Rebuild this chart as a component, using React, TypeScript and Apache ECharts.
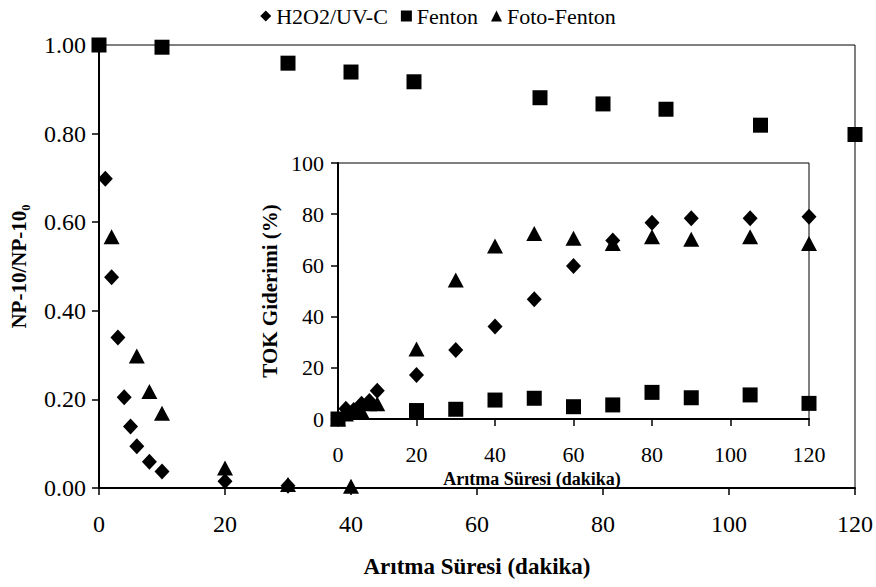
import { useEffect, useRef } from "react";
import * as echarts from "echarts";

const seriesNames = ["H2O2/UV-C", "Fenton", "Foto-Fenton"];

// Main chart: NP-10/NP-10_0 vs time (min)
const mainH2O2T = [1, 2, 3, 4, 5, 6, 8, 10, 20, 30];
const mainH2O2V = [0.698, 0.476, 0.34, 0.205, 0.139, 0.094, 0.059, 0.037, 0.015, 0.005];
const mainFentonT = [0, 10, 30, 40, 50, 70, 80, 90, 105, 120];
const mainFentonV = [1.0, 0.995, 0.959, 0.939, 0.917, 0.881, 0.867, 0.855, 0.819, 0.798];
const mainFotoT = [2, 6, 8, 10, 20, 30, 40];
const mainFotoV = [0.567, 0.298, 0.218, 0.169, 0.045, 0.008, 0.004];

// Inset: TOK removal (%) vs time (min)
const insetH2O2T = [0, 2, 4, 6, 8, 10, 20, 30, 40, 50, 60, 70, 80, 90, 105, 120];
const insetH2O2V = [0, 4, 3.5, 6, 7, 11, 17.2, 27, 36.1, 46.8, 59.8, 69.7, 76.7, 78.4, 78.4, 79];
const insetFentonT = [0, 20, 30, 40, 50, 60, 70, 80, 90, 105, 120];
const insetFentonV = [0, 3.3, 3.8, 7.4, 8.1, 4.8, 5.5, 10.4, 8.3, 9.4, 6.1];
const insetFotoT = [0, 2, 4, 6, 8, 10, 20, 30, 40, 50, 60, 70, 80, 90, 105, 120];
const insetFotoV = [0, 2, 2.5, 3, 6, 6, 27.3, 54.3, 67.6, 72.5, 70.6, 68.6, 71.2, 70.2, 71.2, 68.6];

const FONT = "Liberation Serif";

const zip = (t: number[], v: number[]) => t.map((x, i) => [x, v[i]]);

export default function App() {
  const ref = useRef<HTMLDivElement>(null);
  useEffect(() => {
    const chart = echarts.init(ref.current!, null, { renderer: "svg" });
    const symbols = ["diamond", "rect", "triangle"];
    const sizes: any[] = [[15, 16], [15, 15], [16, 15]];
    const mainData = [zip(mainH2O2T, mainH2O2V), zip(mainFentonT, mainFentonV), zip(mainFotoT, mainFotoV)];
    const insetData = [zip(insetH2O2T, insetH2O2V), zip(insetFentonT, insetFentonV), zip(insetFotoT, insetFotoV)];
    const series: any[] = [];
    for (let g = 0; g < 2; g++) {
      const data = g === 0 ? mainData : insetData;
      for (let i = 0; i < 3; i++) {
        series.push({
          name: seriesNames[i],
          type: "scatter",
          xAxisIndex: g,
          yAxisIndex: g,
          symbol: symbols[i],
          symbolSize: sizes[i],
          itemStyle: { color: "#000", opacity: 1 },
          emphasis: { disabled: true },
          data: data[i],
          z: 5,
        });
      }
    }
    const axisCommon = {
      axisLine: { show: true, onZero: false, lineStyle: { color: "#000", width: 2 } },
      axisTick: { show: true, inside: false, length: 7, lineStyle: { color: "#000", width: 1.5 } },
      splitLine: { show: false },
    };
    const mainLabel = { fontFamily: FONT, fontSize: 24, color: "#000" };
    const insetLabel = { fontFamily: FONT, fontSize: 22, color: "#000" };
    const titleStyle = { fontFamily: FONT, fontSize: 22, fontWeight: "bold", color: "#000" };
    const option: any = {
      animation: false,
      backgroundColor: "#fff",
      textStyle: { fontFamily: FONT, color: "#000" },
      legend: {
        data: seriesNames.map((n, i) => ({ name: n, icon: i === 0 ? "diamond" : i === 1 ? "rect" : "triangle" })),
        top: 0,
        left: "center",
        itemWidth: 11,
        itemHeight: 11,
        itemGap: 13,
        selectedMode: false,
        textStyle: { fontFamily: FONT, fontSize: 22, color: "#000" },
      },
      grid: [
        { left: 97, top: 45, width: 759, height: 443, show: true, borderColor: "#000", borderWidth: 1, backgroundColor: "transparent" },
        { left: 338, top: 163, width: 471, height: 256, show: true, borderColor: "#000", borderWidth: 1, backgroundColor: "transparent" },
      ],
      xAxis: [
        {
          ...axisCommon,
          gridIndex: 0,
          type: "value",
          min: 0,
          max: 120,
          interval: 20,
          axisLabel: { ...mainLabel, margin: 24 },
          name: "Arıtma Süresi (dakika)",
          nameLocation: "middle",
          nameGap: 67,
          nameTextStyle: { ...titleStyle, fontSize: 23 },
        },
        {
          ...axisCommon,
          gridIndex: 1,
          type: "value",
          min: 0,
          max: 120,
          interval: 20,
          axisLabel: { ...insetLabel, margin: 24 },
        },
      ],
      yAxis: [
        {
          ...axisCommon,
          gridIndex: 0,
          type: "value",
          min: 0,
          max: 1,
          interval: 0.2,
          axisLabel: { ...mainLabel, margin: 13, formatter: (v: number) => v.toFixed(2) },
          name: "NP-10/NP-10₀",
          nameLocation: "middle",
          nameGap: 70,
          nameTextStyle: { ...titleStyle, fontSize: 21 },
        },
        {
          ...axisCommon,
          gridIndex: 1,
          type: "value",
          min: 0,
          max: 100,
          interval: 20,
          axisLabel: { ...insetLabel, margin: 14 },
          name: "TOK Giderimi (%)",
          nameLocation: "middle",
          nameGap: 52,
          nameTextStyle: { ...titleStyle, fontSize: 21 },
        },
      ],
      graphic: [
        {
          type: "text",
          x: 532,
          y: 479,
          style: {
            text: "Arıtma Süresi (dakika)",
            font: "bold 18px Liberation Serif",
            fill: "#000",
            align: "center",
            verticalAlign: "middle",
          },
        },
      ],
      series,
    };
    chart.setOption(option);
    return () => chart.dispose();
  }, []);
  return <div ref={ref} style={{ position: "fixed", left: 0, top: 0, width: 876, height: 587, background: "#fff" }} />;
}
